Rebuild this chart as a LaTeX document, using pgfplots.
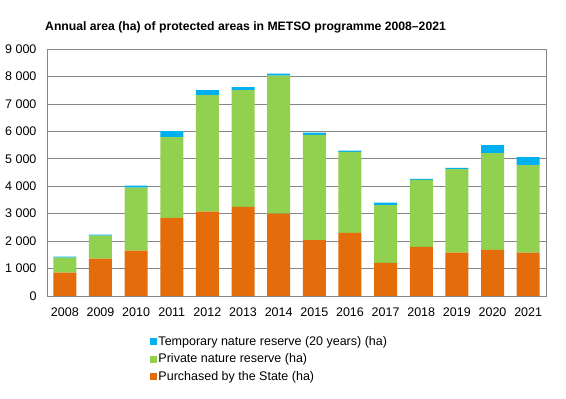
\documentclass[border=0pt]{standalone}
\usepackage{pgfplots}
\pgfplotsset{compat=1.18}
\usepackage{fontspec}
\setmainfont{Liberation Sans}
\definecolor{cOrange}{HTML}{E46C0A}
\definecolor{cGreen}{HTML}{92D050}
\definecolor{cBlue}{HTML}{00B0F0}
\definecolor{cAxis}{HTML}{868686}
\definecolor{cGrid}{HTML}{868686}
\begin{document}
\begin{tikzpicture}[x=1pt,y=1pt]
\useasboundingbox (0,0) rectangle (566,399);
\node[anchor=base west, inner sep=0pt, font=\fontsize{12.2}{14}\selectfont\bfseries] at (45,368) {Annual area (ha) of protected areas in METSO programme 2008–2021};
\begin{axis}[
  at={(47pt,103pt)}, anchor=south west,
  scale only axis, width=499pt, height=247pt,
  ybar stacked, bar width=23pt,
  xmin=-0.5, xmax=13.5, ymin=0, ymax=9000,
  xtick={0,...,13},
  xticklabels={2008,2009,2010,2011,2012,2013,2014,2015,2016,2017,2018,2019,2020,2021},
  ytick={0,1000,...,9000},
  ymajorgrids, grid style={cGrid, line width=0.6pt},
  axis line style={cAxis, line width=0.8pt},
  major tick length=0pt,
  tick label style={font=\fontsize{12.5}{14}\selectfont},
  /pgf/number format/assume math mode=true,
  /pgf/number format/fixed,
  /pgf/number format/1000 sep={\ },
  yticklabel style={xshift=-7pt},
  xticklabel style={yshift=-8pt},
  reverse legend,
  legend style={at={(rel axis cs:0.206,-0.157)}, anchor=north west, draw=none, fill=none,
    font=\fontsize{12.5}{14}\selectfont, inner sep=0pt, row sep=3.8pt,
    nodes={inner sep=1.5pt}},
  legend cell align=left,
  legend image code/.code={\fill[#1] (0pt,-3.5pt) rectangle (7pt,3.5pt);},
]
\addplot[fill=cOrange, draw=none] coordinates {(0,850) (1,1360) (2,1650) (3,2850) (4,3070) (5,3250) (6,3000) (7,2040) (8,2300) (9,1210) (10,1790) (11,1580) (12,1680) (13,1580)};
\addlegendentry{Purchased by the State (ha)}
\addplot[fill=cGreen, draw=none] coordinates {(0,550) (1,840) (2,2300) (3,2940) (4,4250) (5,4250) (6,5030) (7,3830) (8,2950) (9,2100) (10,2440) (11,3040) (12,3530) (13,3190)};
\addlegendentry{Private nature reserve (ha)}
\addplot[fill=cBlue, draw=none] coordinates {(0,35) (1,35) (2,70) (3,220) (4,180) (5,110) (6,70) (7,85) (8,50) (9,90) (10,40) (11,45) (12,290) (13,290)};
\addlegendentry{Temporary nature reserve (20 years) (ha)}
\end{axis}
\end{tikzpicture}
\end{document}
